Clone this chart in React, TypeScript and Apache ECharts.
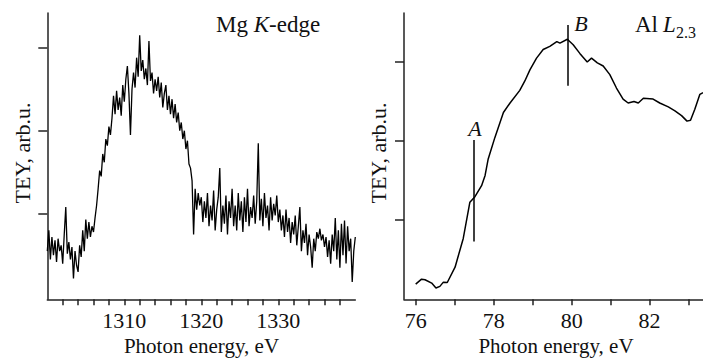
import React, { useEffect, useRef } from 'react';
import * as echarts from 'echarts';

const FONT = 'Liberation Serif, Times New Roman, serif';

// ---------- Mg K-edge (left panel) ----------
const MG_STEP = 0.2;
const mgStartA = 1300.0;
const mgTeyA = [0.55, 0.8, 0.45, 0.72, 0.5, 0.68, 0.42, 0.7, 0.55, 0.62, 0.4, 0.75, 1.08, 0.52, 0.66, 0.45, 0.6, 0.22, 0.55, 0.38, 0.3, 0.62, 0.48, 0.8, 0.55, 0.93, 0.7, 0.9, 0.72, 0.85, 0.78];
const mgStartB = 1306.2;
const mgTeyB = [0.95, 1.1, 1.3, 1.52, 1.45, 1.72, 1.62, 1.9, 1.82, 2.05, 1.95, 2.15, 2.42, 2.2, 2.48, 2.25, 2.4, 2.18, 2.55, 2.35, 2.62, 2.78, 2.45, 1.95, 2.5, 2.7, 2.52, 2.88, 2.65, 3.15, 2.72, 2.85, 2.62, 2.75, 2.55, 3.08, 2.6, 2.7, 2.45, 2.62, 2.48, 2.65, 2.4, 2.58, 2.28, 2.45, 2.55, 2.25, 2.42, 2.2, 2.38, 2.15, 2.32, 2.1, 2.22, 2.0, 2.1, 1.9, 2.0, 1.78, 1.88, 1.6, 1.55, 1.4, 0.75, 1.3, 1.05, 1.25, 1.1];
const mgStartC = 1320.0;
const mgTeyC = [1.2, 0.9, 1.15, 0.95, 1.25, 0.85, 1.1, 0.92, 1.28, 0.8, 1.05, 1.2, 1.55, 0.78, 1.1, 0.88, 1.22, 0.75, 1.15, 0.95, 1.3, 0.85, 1.1, 0.8, 1.25, 0.92, 1.15, 0.78, 1.2, 0.9, 1.3, 0.85, 1.08, 0.95, 1.22, 0.88, 1.15, 1.85, 0.92, 1.18, 0.85, 1.25, 0.95, 1.1, 0.8, 1.2, 0.92, 1.12, 0.98, 1.22, 0.9];
const mgStartD = 1330.2;
const mgTeyD = [1.05, 0.8, 0.98, 0.72, 1.05, 0.78, 0.95, 0.65, 0.9, 0.75, 0.98, 0.62, 0.85, 1.08, 0.55, 0.8, 0.65, 0.88, 0.5, 0.75, 0.6, 0.35, 0.7, 0.55, 0.78, 0.7, 0.82, 0.68, 0.75, 0.6, 0.72, 0.48, 0.68, 0.4, 0.75, 0.55, 0.95, 0.45, 0.8, 0.35, 0.88, 0.5, 0.92, 0.4, 0.85, 0.55, 0.7, 0.18, 0.55, 0.72];
const mgTickValues = [1302, 1304, 1306, 1308, 1310, 1312, 1314, 1316, 1318, 1320, 1322, 1324, 1326, 1328, 1330, 1332, 1334, 1336, 1338];
const mgLabelValues = [1310, 1320, 1330];

// ---------- Al L2.3 (right panel) ----------
const alEnergy = [76.0, 76.15, 76.24, 76.41, 76.52, 76.62, 76.71, 76.81, 77.01, 77.22, 77.39, 77.52, 77.69, 77.78, 77.86, 78.03, 78.25, 78.42, 78.67, 78.8, 78.93, 79.1, 79.27, 79.44, 79.62, 79.7, 79.89, 80.04, 80.21, 80.4, 80.51, 80.66, 80.81, 80.98, 81.15, 81.32, 81.45, 81.6, 81.71, 81.84, 82.09, 82.26, 82.48, 82.65, 82.82, 82.96, 83.05, 83.16, 83.29, 83.37];
const alTey = [0.18, 0.243, 0.235, 0.193, 0.13, 0.151, 0.205, 0.2, 0.395, 0.76, 1.22, 1.29, 1.43, 1.56, 1.77, 2.04, 2.36, 2.48, 2.64, 2.76, 2.9, 3.05, 3.16, 3.2, 3.26, 3.24, 3.29, 3.22, 3.11, 3.0, 3.05, 2.99, 2.95, 2.84, 2.67, 2.53, 2.48, 2.5, 2.48, 2.54, 2.53, 2.48, 2.43, 2.38, 2.32, 2.25, 2.26, 2.4, 2.59, 2.61];
const alTickValues = [76, 77, 78, 79, 80, 81, 82, 83];
const alLabelValues = [76, 78, 80, 82];
const markerNames = ['A', 'B'];
const markerEnergy = [77.5, 79.9];
const markerFrom = [0.72, 2.7];
const markerTo = [2.01, 3.47];

const yTickValues = [1, 2, 3];

function seg(start: number, values: number[]) {
  return values.map((v, i) => [Number((start + i * MG_STEP).toFixed(2)), v]);
}

const axisColor = '#222';

export default function App() {
  const ref = useRef<HTMLDivElement>(null);
  useEffect(() => {
    if (!ref.current) return;
    const chart = echarts.init(ref.current, undefined, { renderer: 'svg' });
    const mgData = [
      ...seg(mgStartA, mgTeyA),
      ...seg(mgStartB, mgTeyB),
      ...seg(mgStartC, mgTeyC),
      ...seg(mgStartD, mgTeyD),
    ];
    const alData = alEnergy.map((e, i) => [e, alTey[i]]);

    const xAxisCommon = (min: number, max: number, ticks: number[], labels: number[], gridIndex: number) => ({
      gridIndex,
      type: 'value',
      min,
      max,
      axisLine: { show: true, onZero: false, lineStyle: { color: axisColor, width: 1.5 } },
      axisTick: { show: true, customValues: ticks, length: 6, lineStyle: { color: axisColor, width: 1.5 } },
      axisLabel: {
        show: true,
        customValues: labels,
        fontSize: 22,
        color: '#111',
        margin: 10,
        fontFamily: FONT,
        formatter: (v: number) => String(v),
      },
      splitLine: { show: false },
    });
    const yAxisCommon = (min: number, max: number, gridIndex: number) => ({
      gridIndex,
      type: 'value',
      min,
      max,
      axisLine: { show: true, onZero: false, lineStyle: { color: axisColor, width: 1.5 } },
      axisTick: { show: true, customValues: yTickValues, length: 9, lineStyle: { color: axisColor, width: 1.5 } },
      axisLabel: { show: false },
      splitLine: { show: false },
    });

    const txt = (text: string, x: number, y: number, size: number, extra: any = {}, rotation = 0) => ({
      type: 'text',
      x,
      y,
      rotation,
      silent: true,
      style: {
        text,
        fontSize: size,
        fontFamily: FONT,
        fill: '#111',
        align: 'center',
        verticalAlign: 'middle',
        ...extra,
      },
    });

    chart.setOption({
      animation: false,
      textStyle: { fontFamily: FONT },
      grid: [
        { left: 47.3, top: 13, width: 308, height: 286.3 },
        { left: 404, top: 13, right: 0, height: 286.3 },
      ],
      xAxis: [
        xAxisCommon(1300, 1340, mgTickValues, mgLabelValues, 0),
        xAxisCommon(75.7, 83.37, alTickValues, alLabelValues, 1),
      ],
      yAxis: [yAxisCommon(-0.03, 3.418, 0), yAxisCommon(-0.013, 3.623, 1)],
      series: [
        {
          type: 'line',
          xAxisIndex: 0,
          yAxisIndex: 0,
          data: mgData,
          showSymbol: false,
          symbol: 'none',
          lineStyle: { color: '#000', width: 1.3 },
          silent: true,
        },
        {
          type: 'line',
          xAxisIndex: 1,
          yAxisIndex: 1,
          data: alData,
          showSymbol: false,
          symbol: 'none',
          lineStyle: { color: '#000', width: 1.5 },
          silent: true,
          markLine: {
            silent: true,
            animation: false,
            symbol: ['none', 'none'],
            label: { show: false },
            lineStyle: { color: '#000', width: 1.5, type: 'solid' },
            data: markerNames.map((_, i) => [
              { coord: [markerEnergy[i], markerFrom[i]] },
              { coord: [markerEnergy[i], markerTo[i]] },
            ]),
          },
        },
      ],
      graphic: [
        txt('TEY, arb.u.', 22, 153, 22, {}, Math.PI / 2),
        txt('TEY, arb.u.', 378, 153, 22, {}, Math.PI / 2),
        txt('Photon energy, eV', 201.5, 346, 21),
        txt('Photon energy, eV', 556, 346, 21),
        {
          type: 'text',
          x: 216,
          y: 24,
          silent: true,
          style: {
            text: '{r|Mg }{i|K}{r|-edge}',
            align: 'left',
            verticalAlign: 'middle',
            rich: {
              r: { fontSize: 23, fontFamily: FONT, fill: '#111' },
              i: { fontSize: 23, fontFamily: FONT, fontStyle: 'italic', fill: '#111' },
            },
          },
        },
        txt('Al', 635, 24, 23, { align: 'left' }),
        txt('L', 663, 24, 23, { align: 'left', fontStyle: 'italic' }),
        txt('2.3', 676, 32.3, 16, { align: 'left' }),
        txt(markerNames[0], 475, 128.5, 22, { fontStyle: 'italic' }),
        txt(markerNames[1], 581, 23.5, 22, { fontStyle: 'italic' }),
      ],
    });
    return () => chart.dispose();
  }, []);
  return (
    <div
      ref={ref}
      style={{ position: 'absolute', left: 0, top: 0, width: 703, height: 358, background: '#fff' }}
    />
  );
}
